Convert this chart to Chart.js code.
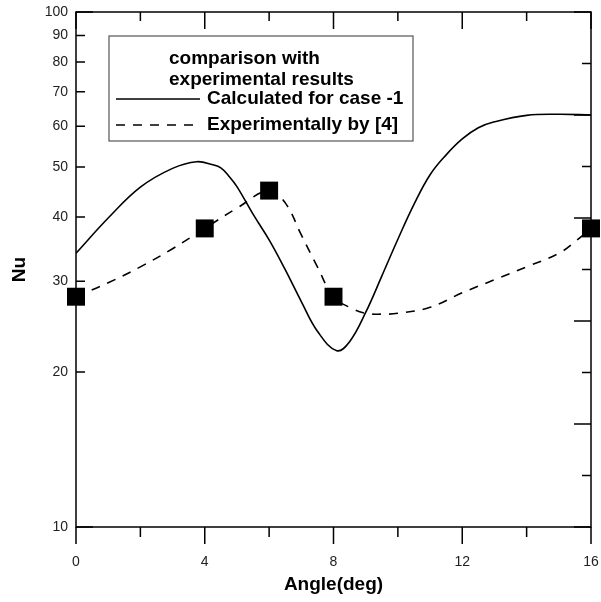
<!DOCTYPE html>
<html>
<head>
<meta charset="utf-8">
<script src="https://cdn.jsdelivr.net/npm/chart.js@4.4.1/dist/chart.umd.min.js"></script>
<style>
  html, body { margin: 0; padding: 0; background: #fff; }
  canvas { display: block; }
</style>
</head>
<body>
<canvas id="nuChart" width="601" height="602"></canvas>
<script>
const xTicks = [0, 4, 8, 12, 16];
const xMinorTicks = [2, 6, 10, 14];
const yTicks = [10, 20, 30, 40, 50, 60, 70, 80, 90, 100];

// calculated curve (case -1)
const calcAngle = [0, 1, 2, 3, 3.75, 4.25, 4.5, 4.75, 5, 5.5, 6, 6.5, 7, 7.5, 8.1, 8.5, 9, 9.5, 10, 10.5, 11, 11.5, 12, 12.5, 13, 14, 15, 16];
const calcNu = [34.0, 39.8, 45.7, 49.7, 51.2, 50.5, 49.8, 48.0, 45.8, 40.5, 36.1, 31.6, 27.4, 24.0, 22.0, 22.9, 26.1, 30.7, 36.2, 42.3, 48.3, 52.8, 56.7, 59.6, 61.2, 63.0, 63.3, 63.1];

// experimental points [4]
const expAngle = [0, 4, 6, 8, 16];
const expNu = [28, 38, 45, 28, 38];

// dashed curve drawn through the experimental points
const expCurveAngle = [0, 1, 2, 3, 4, 5, 6, 6.5, 7, 7.5, 8, 8.5, 9, 9.5, 10, 11, 12, 13, 14, 15, 15.5, 16];
const expCurveNu = [28, 29.8, 32.0, 34.7, 38, 41.6, 45, 42.6, 36.9, 32.0, 28, 26.7, 26.0, 25.9, 26.0, 26.7, 28.5, 30.2, 32.0, 34.0, 35.8, 38];

const legendTitle = ["comparison with", "experimental results"];
const calcLabel = "Calculated for case -1";
const expLabel = "Experimentally by [4]";

const FONT = 'Arial, "Liberation Sans", sans-serif';
const DASH = [9, 8];

function pairs(xs, ys) {
  return xs.map((x, i) => ({ x: x, y: ys[i] }));
}

// keep tick labels from pushing the plot area inwards
function noPad(s) {
  s._calculatePadding = function () {
    this.paddingLeft = 0;
    this.paddingRight = 0;
    this.paddingTop = 0;
    this.paddingBottom = 0;
  };
}

// frame, inward/outward tick marks and the boxed legend
const framePlugin = {
  id: "frame",
  afterDraw(chart) {
    const ctx = chart.ctx;
    const a = chart.chartArea;
    const xs = chart.scales.x;
    const ys = chart.scales.y;
    const major = 17, minor = 9;

    ctx.save();
    ctx.strokeStyle = "#000";
    ctx.lineWidth = 1.5;
    ctx.strokeRect(a.left, a.top, a.right - a.left, a.bottom - a.top);

    ctx.beginPath();
    // bottom (outward) and top (inward)
    xTicks.forEach((v) => {
      const px = xs.getPixelForValue(v);
      ctx.moveTo(px, a.bottom); ctx.lineTo(px, a.bottom + major);
      ctx.moveTo(px, a.top); ctx.lineTo(px, a.top + major);
    });
    xMinorTicks.forEach((v) => {
      const px = xs.getPixelForValue(v);
      ctx.moveTo(px, a.bottom); ctx.lineTo(px, a.bottom + minor + 1);
      ctx.moveTo(px, a.top); ctx.lineTo(px, a.top + minor);
    });
    // left, inward
    yTicks.forEach((v) => {
      const py = ys.getPixelForValue(v);
      const len = (v === 10 || v === 100) ? major : minor;
      ctx.moveTo(a.left, py); ctx.lineTo(a.left + len, py);
    });
    // right, inward, evenly spaced
    for (let i = 0; i <= 10; i++) {
      const py = a.bottom - (a.bottom - a.top) * i / 10;
      const len = i % 2 === 0 ? major : minor;
      ctx.moveTo(a.right, py); ctx.lineTo(a.right - len, py);
    }
    ctx.stroke();

    // legend box
    const bl = a.left + 33, bt = a.top + 24, bw = 304, bh = 105;
    ctx.fillStyle = "#fff";
    ctx.fillRect(bl, bt, bw, bh);
    ctx.strokeStyle = "#555";
    ctx.lineWidth = 1.2;
    ctx.strokeRect(bl, bt, bw, bh);

    ctx.fillStyle = "#000";
    ctx.font = "bold 19px " + FONT;
    ctx.textBaseline = "middle";
    ctx.textAlign = "left";
    ctx.fillText(legendTitle[0], bl + 60, bt + 23);
    ctx.fillText(legendTitle[1], bl + 60, bt + 44);

    const rows = [
      { label: calcLabel, dash: [], y: bt + 63 },
      { label: expLabel, dash: DASH, y: bt + 89 },
    ];
    rows.forEach((r) => {
      ctx.beginPath();
      ctx.strokeStyle = "#000";
      ctx.lineWidth = 1.6;
      ctx.setLineDash(r.dash);
      ctx.moveTo(bl + 7, r.y);
      ctx.lineTo(bl + 91, r.y);
      ctx.stroke();
      ctx.setLineDash([]);
      ctx.fillText(r.label, bl + 98, r.y);
    });
    ctx.restore();
  },
};

const ctx = document.getElementById("nuChart").getContext("2d");
const nuChart = new Chart(ctx, {
  type: "line",
  data: {
    datasets: [
      {
        label: calcLabel,
        data: pairs(calcAngle, calcNu),
        borderColor: "#000",
        borderWidth: 1.6,
        pointRadius: 0,
        fill: false,
        tension: 0.4,
      },
      {
        label: expLabel,
        data: pairs(expCurveAngle, expCurveNu),
        borderColor: "#000",
        borderWidth: 1.6,
        borderDash: DASH,
        pointRadius: 0,
        fill: false,
        tension: 0.4,
      },
      {
        label: "experimental points",
        data: pairs(expAngle, expNu),
        showLine: false,
        pointStyle: "rect",
        pointRadius: 12.7,
        pointBackgroundColor: "#000",
        pointBorderWidth: 0,
        clip: false,
      },
    ],
  },
  options: {
    responsive: false,
    animation: false,
    devicePixelRatio: 1,
    events: [],
    layout: { autoPadding: false, padding: { top: 12, right: 10, left: 0, bottom: 0 } },
    plugins: {
      legend: { display: false },
      tooltip: { enabled: false },
    },
    scales: {
      x: {
        type: "linear",
        min: 0,
        max: 16,
        beforeFit: noPad,
        afterBuildTicks: (s) => { s.ticks = xTicks.map((v) => ({ value: v })); },
        afterFit: (s) => { s.height = 75; },
        grid: { display: false, drawTicks: false },
        border: { display: false },
        ticks: {
          color: "#222",
          font: { family: FONT, size: 14 },
          padding: 27,
          maxRotation: 0,
          autoSkip: false,
        },
        title: {
          display: true,
          text: "Angle(deg)",
          color: "#000",
          font: { family: FONT, size: 19, weight: "bold" },
          padding: 6,
        },
      },
      y: {
        type: "logarithmic",
        min: 10,
        max: 100,
        beforeFit: noPad,
        afterBuildTicks: (s) => { s.ticks = yTicks.map((v) => ({ value: v })); },
        afterFit: (s) => { s.width = 76; },
        grid: { display: false, drawTicks: false },
        border: { display: false },
        ticks: {
          color: "#222",
          font: { family: FONT, size: 14 },
          padding: 8,
          autoSkip: false,
          callback: (v) => String(v),
        },
        title: {
          display: true,
          text: "Nu",
          color: "#000",
          font: { family: FONT, size: 19, weight: "bold" },
          padding: 8,
        },
      },
    },
  },
  plugins: [framePlugin],
});
</script>
</body>
</html>
